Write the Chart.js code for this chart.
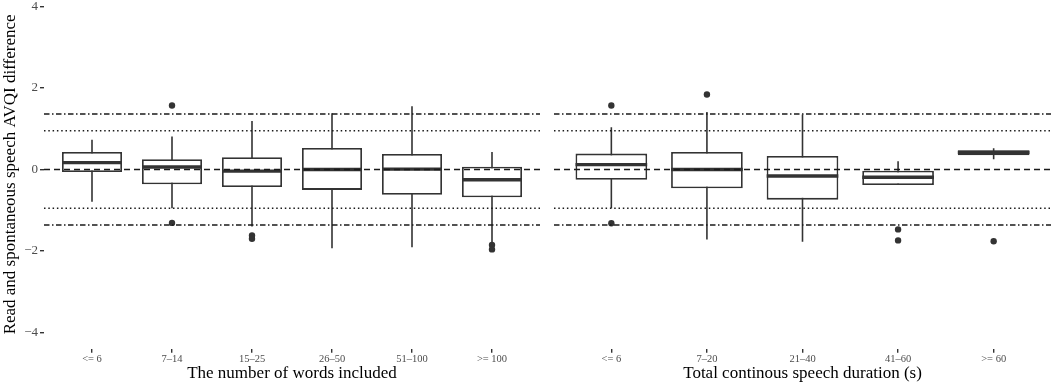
<!DOCTYPE html>
<html>
<head>
<meta charset="utf-8">
<script src="https://cdn.jsdelivr.net/npm/chart.js@4.4.0/dist/chart.umd.min.js"></script>
<style>
  html, body { margin: 0; padding: 0; background: #fff; }
  #wrap { position: relative; width: 1052px; height: 386px; overflow: hidden; }
  canvas { position: absolute; top: 0; }
  #left { left: 0; }
  #right { left: 554px; }
</style>
</head>
<body>
<div id="wrap">
  <canvas id="left" width="540" height="386"></canvas>
  <canvas id="right" width="497" height="386"></canvas>
</div>
<script>
// left panel: number of words included
const wordLabels = ["<= 6", "7\u201314", "15\u201325", "26\u201350", "51\u2013100", ">= 100"];
const wordLow = [-0.79, -0.95, -1.40, -1.93, -1.91, -1.79];
const wordQ1 = [-0.06, -0.36, -0.43, -0.50, -0.62, -0.68];
const wordMedian = [0.17, 0.06, -0.04, 0.00, 0.01, -0.25];
const wordQ3 = [0.43, 0.25, 0.30, 0.53, 0.38, 0.07];
const wordHigh = [0.73, 0.81, 1.19, 1.38, 1.55, 0.43];
const wordOutliers = [[], [1.57, -1.31], [-1.62, -1.70], [], [], [-1.85, -1.96]];

// right panel: continuous speech duration
const durLabels = ["<= 6", "7\u201320", "21\u201340", "41\u201360", ">= 60"];
const durLow = [-0.95, -1.72, -1.77, -0.38, 0.25];
const durQ1 = [-0.25, -0.46, -0.74, -0.38, 0.35];
const durMedian = [0.12, 0.00, -0.16, -0.19, 0.42];
const durQ3 = [0.39, 0.43, 0.33, -0.03, 0.47];
const durHigh = [1.04, 1.41, 1.35, 0.20, 0.52];
const durOutliers = [[1.57, -1.32], [1.84], [], [-1.47, -1.74], [-1.76]];

// horizontal reference lines
const zeroLine = [0];
const dottedLines = [0.95, -0.95];
const dotDashLines = [1.36, -1.36];

const yTicks = [-4, -2, 0, 2, 4];

const serif = "'Liberation Serif', 'DejaVu Serif', serif";
const ink = "#333333";
const boxHalf = 0.375;

function refLine(v, xMin, xMax, dash) {
  return {
    type: "line",
    data: [{ x: xMin, y: v }, { x: xMax, y: v }],
    borderColor: "#1a1a1a",
    borderWidth: 1.5,
    borderDash: dash,
    pointRadius: 0,
    order: 0,
  };
}

function makePanel(canvasId, labels, low, q1, med, q3, high, outliers, xTitle, showY) {
  const xMin = -0.6;
  const xMax = labels.length - 1 + 0.6;

  const boxes = labels.map((_, i) => ({ x: i, y: [q1[i], q3[i]] }));
  const whiskers = [];
  const medians = [];
  const points = [];
  labels.forEach((_, i) => {
    whiskers.push({ x: i, y: low[i] }, { x: i, y: high[i] }, { x: i, y: null });
    medians.push({ x: i - boxHalf, y: med[i] }, { x: i + boxHalf, y: med[i] }, { x: i, y: null });
    outliers[i].forEach((v) => points.push({ x: i, y: v }));
  });

  const datasets = [];
  zeroLine.forEach((v) => datasets.push(refLine(v, xMin, xMax, [6, 4])));
  dottedLines.forEach((v) => datasets.push(refLine(v, xMin, xMax, [1.5, 2.8])));
  dotDashLines.forEach((v) => datasets.push(refLine(v, xMin, xMax, [5.5, 2.5, 1.5, 2.5])));

  datasets.push({
    type: "scatter",
    data: points,
    pointRadius: 3.2,
    pointBackgroundColor: ink,
    pointBorderWidth: 0,
    order: 1,
  });
  datasets.push({
    type: "line",
    data: medians,
    borderColor: ink,
    borderWidth: 3.4,
    pointRadius: 0,
    spanGaps: false,
    order: 2,
  });
  datasets.push({
    type: "bar",
    data: boxes,
    backgroundColor: "#ffffff",
    borderColor: ink,
    borderWidth: 1.8,
    borderSkipped: false,
    categoryPercentage: 1,
    barPercentage: boxHalf * 2,
    order: 3,
  });
  datasets.push({
    type: "line",
    data: whiskers,
    borderColor: ink,
    borderWidth: 1.6,
    pointRadius: 0,
    spanGaps: false,
    order: 4,
  });

  const tickGrid = {
    display: true,
    drawOnChartArea: false,
    drawTicks: true,
    tickLength: 4,
    color: ink,
    lineWidth: 1.4,
    offset: false,
  };

  return new Chart(document.getElementById(canvasId), {
    type: "bar",
    data: { datasets: datasets },
    options: {
      responsive: false,
      animation: false,
      events: [],
      layout: { padding: 0, autoPadding: false },
      plugins: { legend: { display: false }, tooltip: { enabled: false } },
      scales: {
        x: {
          type: "linear",
          min: xMin,
          max: xMax,
          offset: false,
          grid: tickGrid,
          border: { display: false },
          afterBuildTicks: (s) => { s.ticks = labels.map((_, i) => ({ value: i })); },
          ticks: {
            callback: (v) => labels[v],
            font: { family: serif, size: 10.5 },
            color: "#4d4d4d",
            padding: 0,
            autoSkip: false,
            maxRotation: 0,
          },
          title: {
            display: true,
            text: xTitle,
            font: { family: serif, size: 17 },
            color: "#000000",
            padding: { top: 0, bottom: 2 },
          },
          afterFit: (s) => { s.height = 37.2; s.paddingLeft = 0; s.paddingRight = 0; },
        },
        y: {
          type: "linear",
          min: -4.4,
          max: 4.16,
          display: showY,
          grid: tickGrid,
          border: { display: false },
          afterBuildTicks: (s) => { s.ticks = yTicks.map((v) => ({ value: v })); },
          ticks: {
            callback: (v) => (v < 0 ? "\u2212" + Math.abs(v) : String(v)),
            font: { family: serif, size: 13 },
            color: "#4d4d4d",
            padding: 2,
          },
          title: {
            display: true,
            text: "Read and spontaneous speech AVQI difference",
            font: { family: serif, size: 17 },
            color: "#000000",
            padding: { top: 0, bottom: 0 },
          },
          afterFit: (s) => { s.width = showY ? 44 : 0; s.paddingTop = 0; s.paddingBottom = 0; },
        },
      },
    },
  });
}

makePanel("left", wordLabels, wordLow, wordQ1, wordMedian, wordQ3, wordHigh, wordOutliers,
  "The number of words included", true);
makePanel("right", durLabels, durLow, durQ1, durMedian, durQ3, durHigh, durOutliers,
  "Total continous speech duration (s)", false);
</script>
</body>
</html>
